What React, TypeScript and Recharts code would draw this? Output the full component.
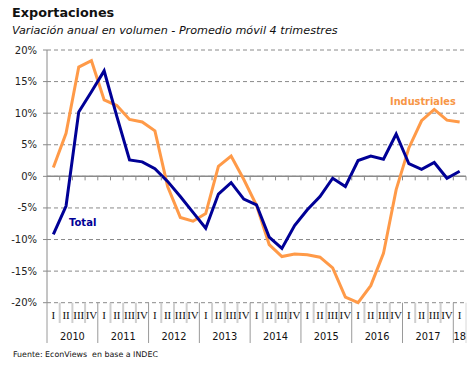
import React from 'react';
import { LineChart, Line, XAxis, YAxis, CartesianGrid, ReferenceLine } from 'recharts';

const years = ['2010', '2011', '2012', '2013', '2014', '2015', '2016', '2017', '18'];
const quarters = ['I', 'II', 'III', 'IV'];

const totalValues = [
  -9.2, -4.7, 10.2, 13.4, 16.7, 9.5, 2.6, 2.3,
  1.2, -0.8, -3.2, -5.7, -8.2, -2.8, -1.0, -3.6,
  -4.5, -9.6, -11.4, -7.8, -5.3, -3.2, -0.3, -1.6,
  2.5, 3.2, 2.7, 6.7, 2.0, 1.1, 2.2, -0.3, 0.8,
];
const industrialesValues = [
  1.4, 6.8, 17.3, 18.3, 12.1, 11.2, 9.0, 8.6,
  7.2, -1.6, -6.5, -7.1, -5.9, 1.6, 3.2, -0.5,
  -4.6, -10.8, -12.7, -12.3, -12.4, -12.8, -14.5, -19.1,
  -20.0, -17.3, -12.2, -2.1, 4.5, 8.8, 10.6, 8.9, 8.6,
];
const yTicks = [-20, -15, -10, -5, 0, 5, 10, 15, 20];

const categories: string[] = [];
years.forEach((y) => {
  const n = y === '18' ? 1 : 4;
  for (let i = 0; i < n; i++) categories.push(`${y}-${quarters[i]}`);
});

const data = categories.map((c, i) => ({
  cat: c,
  total: totalValues[i],
  industriales: industrialesValues[i],
}));

const W = 475;
const H = 367;
const M_TOP = 50;
const M_RIGHT = 9;
const M_BOTTOM = 20;
const Y_W = 47;
const X_H = 44.3;
const PLOT_W = W - Y_W - M_RIGHT;
const PLOT_H = H - M_TOP - M_BOTTOM - X_H;
const PLOT_BOTTOM = M_TOP + PLOT_H;
const STEP = PLOT_W / categories.length;
const ZERO_Y = M_TOP + PLOT_H / 2;

const BLUE = '#000096';
const ORANGE = '#FF9A48';
const GRID = '#8a8a8a';

const QuarterTick = (props: any) => {
  const { x, payload, index } = props;
  const [yr, q] = String(payload.value).split('-');
  const left = x - STEP / 2;
  const right = x + STEP / 2;
  const isLast = index === categories.length - 1;
  const els: React.ReactNode[] = [];
  if (q === 'I') {
    els.push(<line key="ys" x1={left} x2={left} y1={PLOT_BOTTOM} y2={343} stroke="#9a9a9a" strokeWidth={1} />);
  } else {
    els.push(<line key="qs" x1={left} x2={left} y1={PLOT_BOTTOM} y2={323} stroke="#cfcfcf" strokeWidth={2} />);
  }
  if (index > 0) {
    els.push(<line key="zt" x1={left} x2={left} y1={ZERO_Y} y2={ZERO_Y + 4} stroke={GRID} strokeWidth={1} />);
  }
  if (isLast) {
    els.push(<line key="end" x1={right} x2={right} y1={PLOT_BOTTOM} y2={343} stroke="#d8d8d8" strokeWidth={1} />);
    els.push(<line key="zt2" x1={right} x2={right} y1={ZERO_Y} y2={ZERO_Y + 4} stroke={GRID} strokeWidth={1} />);
  }
  els.push(
    <text key="q" x={x} y={315} textAnchor="middle" dominantBaseline="central"
      fontFamily="'Liberation Serif', serif" fontSize={11} fill="#111">{q}</text>
  );
  if (yr === '18') {
    els.push(
      <text key="y" x={x} y={336} textAnchor="middle" dominantBaseline="central"
        fontFamily="'DejaVu Sans', sans-serif" fontSize={9.8} fill="#111">{yr}</text>
    );
  } else if (q === 'II') {
    els.push(
      <text key="y" x={right} y={336} textAnchor="middle" dominantBaseline="central"
        fontFamily="'DejaVu Sans', sans-serif" fontSize={9.8} fill="#111">{yr}</text>
    );
  }
  return <g>{els}</g>;
};

const textBase: React.CSSProperties = {
  position: 'absolute',
  fontFamily: "'DejaVu Sans', sans-serif",
  whiteSpace: 'pre',
  margin: 0,
};

export default function App() {
  return (
    <div style={{ position: 'absolute', left: 0, top: 0, width: W, height: H, background: '#fff' }}>
      <LineChart width={W} height={H} data={data}
        margin={{ top: M_TOP, right: M_RIGHT, bottom: M_BOTTOM, left: 0 }}>
        <CartesianGrid vertical={false} stroke={GRID} strokeDasharray="4 3" />
        <XAxis dataKey="cat" interval={0} height={X_H} axisLine={false} tickLine={false}
          padding={{ left: STEP / 2, right: STEP / 2 }} tick={(p: any) => <QuarterTick {...p} />} />
        <YAxis type="number" domain={[-20, 20]} ticks={yTicks} width={Y_W} interval={0}
          tickFormatter={(v: number) => `${v}%`} axisLine={{ stroke: GRID }}
          tickLine={{ stroke: GRID }} tickSize={4} tickMargin={6}
          tick={{ fontSize: 10, fill: '#222', fontFamily: "'DejaVu Sans', sans-serif" }} />
        <ReferenceLine y={0} stroke={GRID} strokeWidth={1.5} />
        <Line type="linear" dataKey="industriales" stroke={ORANGE} strokeWidth={3} dot={false}
          isAnimationActive={false} />
        <Line type="linear" dataKey="total" stroke={BLUE} strokeWidth={3} dot={false}
          isAnimationActive={false} />
      </LineChart>
      <div style={{ ...textBase, left: 12, top: 5, fontSize: 12.8, lineHeight: '16px', fontWeight: 'bold', color: '#111' }}>
        Exportaciones
      </div>
      <div style={{ ...textBase, left: 12, top: 24, fontSize: 11.2, lineHeight: '14px', fontStyle: 'italic', color: '#111' }}>
        Variación anual en volumen - Promedio móvil 4 trimestres
      </div>
      <div style={{ ...textBase, left: 69, top: 216, fontSize: 10, lineHeight: '13px', fontWeight: 'bold', color: BLUE }}>
        Total
      </div>
      <div style={{ ...textBase, left: 390, top: 94.5, fontSize: 9.8, lineHeight: '13px', fontWeight: 'bold', color: '#F79646' }}>
        Industriales
      </div>
      <div style={{ ...textBase, left: 13, top: 349, fontSize: 7.9, lineHeight: '12px', color: '#111' }}>
        {'Fuente: EconViews  en base a INDEC'}
      </div>
    </div>
  );
}
